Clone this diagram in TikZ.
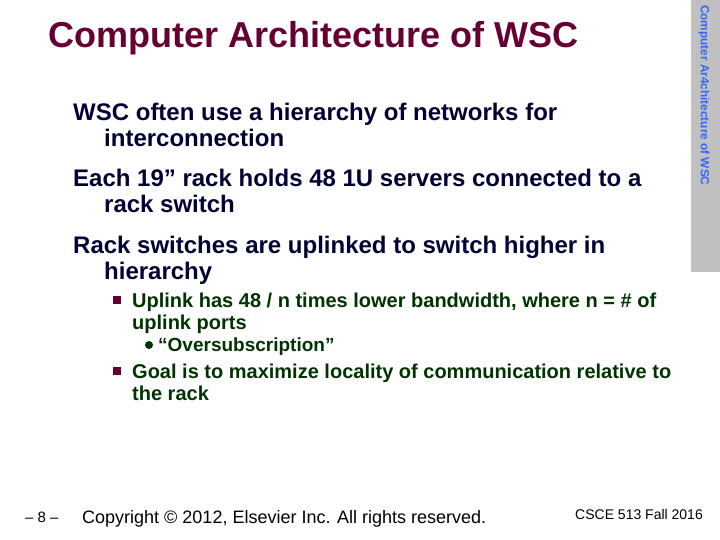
\documentclass[tikz,border=0pt]{standalone}
\usepackage{fontspec}
\setmainfont{Liberation Sans}
\definecolor{ttl}{HTML}{660033}
\definecolor{navy}{HTML}{000033}
\definecolor{grn}{HTML}{003300}
\definecolor{side}{HTML}{C0C0C0}
\definecolor{sidet}{HTML}{3366FF}
\begin{document}
\begin{tikzpicture}[x=1pt,y=-1pt,
  l1/.style={anchor=base west,font=\fontsize{24}{28}\selectfont\bfseries,text=navy,inner sep=0},
  l2/.style={anchor=base west,font=\fontsize{20}{24}\selectfont\bfseries,text=grn,inner sep=0},
  sq/.style={fill=ttl,minimum size=8pt,inner sep=0},
  dot/.style={circle,fill=grn,minimum size=8pt,inner sep=0}]
\useasboundingbox (0,0) rectangle (720,540);
\fill[side] (691,0) rectangle (720,272);
\node[rotate=-90,anchor=west,inner sep=0,font=\fontsize{11.8}{13}\selectfont\bfseries,text=sidet] (sb) at (704,5) {Computer Ar4chitecture of WSC};
\node[anchor=base west,inner sep=0,font=\fontsize{36}{42}\selectfont\bfseries,text=ttl] (t) at (48,48) {Computer Architecture of WSC};
\node[l1] (a1) at (73,121) {WSC often use a hierarchy of networks for};
\node[l1] (a2) at (104,147) {interconnection};
\node[l1] (b1) at (73,187) {Each 19” rack holds 48 1U servers connected to a};
\node[l1] (b2) at (104,213) {rack switch};
\node[l1] (c1) at (73,253) {Rack switches are uplinked to switch higher in};
\node[l1] (c2) at (104,279) {hierarchy};
\node[sq] (s1) at (117,300) {};
\node[l2] (d1) at (132,307) {Uplink has 48 / n times lower bandwidth, where n = \# of};
\node[l2] (d2) at (132,329) {uplink ports};
\node[dot] (p1) at (149,345) {};
\node[l2,font=\fontsize{19}{22}\selectfont\bfseries] (e1) at (158,351) {“Oversubscription”};
\node[sq] (s2) at (117,371) {};
\node[l2] (f1) at (132,378) {Goal is to maximize locality of communication relative to};
\node[l2] (f2) at (132,400) {the rack};
\node[anchor=base west,inner sep=0,font=\fontsize{15}{18}\selectfont] (pg) at (25,522) {– 8 –};
\node[anchor=base west,inner sep=0,font=\fontsize{18}{20}\selectfont] (cp) at (82,523) {Copyright © 2012, Elsevier Inc. All rights reserved.};
\node[anchor=base west,inner sep=0,font=\fontsize{14}{17}\selectfont] (cs) at (575,519) {CSCE 513 Fall 2016};
\end{tikzpicture}
\end{document}
